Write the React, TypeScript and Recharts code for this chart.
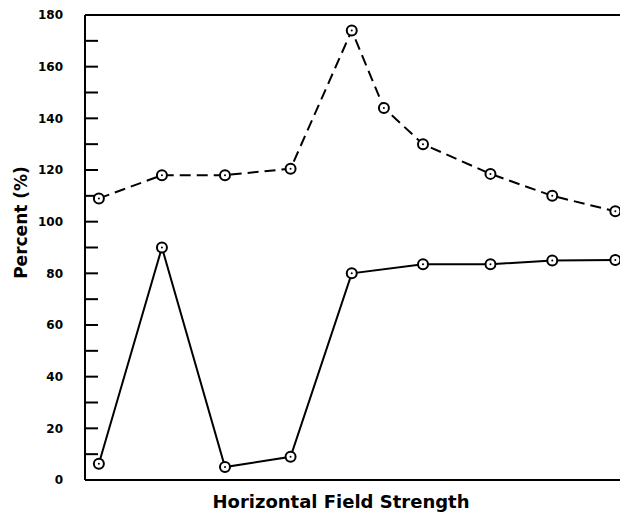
import { LineChart, Line, XAxis, YAxis, ReferenceLine } from 'recharts';

// field strength positions (no labels on the original axis)
const upperX = [0.22, 1.22, 2.22, 3.26, 4.23, 4.74, 5.36, 6.43, 7.41, 8.41];
const upperPct = [109, 118, 118, 120.5, 174, 144, 130, 118.5, 110, 104];

const lowerX = [0.22, 1.22, 2.22, 3.26, 4.23, 5.36, 6.43, 7.41, 8.41];
const lowerPct = [6.3, 90, 5, 9, 80, 83.5, 83.5, 85, 85.2];

const yTicks = [0, 10, 20, 30, 40, 50, 60, 70, 80, 90, 100, 110, 120, 130, 140, 150, 160, 170, 180];

const upperData = upperX.map((x, i) => ({ x, pct: upperPct[i] }));
const lowerData = lowerX.map((x, i) => ({ x, pct: lowerPct[i] }));

const font = 'DejaVu Sans, sans-serif';

function RingDot(props: any) {
  const { cx, cy } = props;
  if (cx == null || cy == null) return null;
  return (
    <g>
      <circle cx={cx} cy={cy} r={5} fill="#fff" stroke="#000" strokeWidth={2} />
      <circle cx={cx} cy={cy} r={1} fill="#000" />
    </g>
  );
}

function PercentLabel(props: any) {
  const { viewBox } = props;
  const cx = viewBox.x + 21;
  const cy = viewBox.y + viewBox.height / 2 - 25;
  return (
    <text
      x={cx}
      y={cy}
      transform={`rotate(-90 ${cx} ${cy})`}
      textAnchor="middle"
      dominantBaseline="central"
      fontFamily={font}
      fontWeight="bold"
      fontSize={17}
      fill="#000"
    >
      Percent (%)
    </text>
  );
}

function FieldLabel(props: any) {
  const { viewBox } = props;
  const cx = viewBox.x + viewBox.width / 2 - 12;
  const by = viewBox.y + viewBox.height - 4;
  return (
    <text x={cx} y={by} textAnchor="middle" fontFamily={font} fontWeight="bold" fontSize={18} fill="#000">
      Horizontal Field Strength
    </text>
  );
}

export default function App() {
  return (
    <div style={{ position: 'fixed', top: 0, left: 0, width: 620, height: 512, overflow: 'hidden', background: '#fff' }}>
      <LineChart width={624} height={512} margin={{ top: 15, right: 0, left: 0, bottom: 0 }}>
        <XAxis
          type="number"
          dataKey="x"
          domain={[0, 8.5]}
          allowDataOverflow
          tick={false}
          tickLine={false}
          height={32}
          axisLine={{ stroke: '#000', strokeWidth: 2 }}
          label={<FieldLabel />}
        />
        <YAxis
          type="number"
          domain={[0, 180]}
          ticks={yTicks}
          interval={0}
          width={85}
          tickSize={-13}
          tickMargin={35}
          tickFormatter={(v: number) => (v % 20 === 0 ? String(v) : '')}
          tick={{ fill: '#000', fontFamily: font, fontWeight: 'bold', fontSize: 12 }}
          tickLine={{ stroke: '#000', strokeWidth: 2 }}
          axisLine={{ stroke: '#000', strokeWidth: 2 }}
          label={<PercentLabel />}
        />
        <YAxis
          yAxisId="right"
          orientation="right"
          type="number"
          domain={[0, 180]}
          ticks={yTicks}
          interval={0}
          width={3}
          tickSize={-5}
          tick={false}
          tickLine={{ stroke: '#000', strokeWidth: 2 }}
          axisLine={{ stroke: '#000', strokeWidth: 2 }}
        />
        <ReferenceLine y={180} stroke="#000" strokeWidth={2} />
        <Line
          data={upperData}
          dataKey="pct"
          type="linear"
          stroke="#000"
          strokeWidth={2}
          strokeDasharray="11 6"
          dot={<RingDot />}
          activeDot={false}
          isAnimationActive={false}
        />
        <Line
          data={lowerData}
          dataKey="pct"
          type="linear"
          stroke="#000"
          strokeWidth={2}
          dot={<RingDot />}
          activeDot={false}
          isAnimationActive={false}
        />
      </LineChart>
    </div>
  );
}
